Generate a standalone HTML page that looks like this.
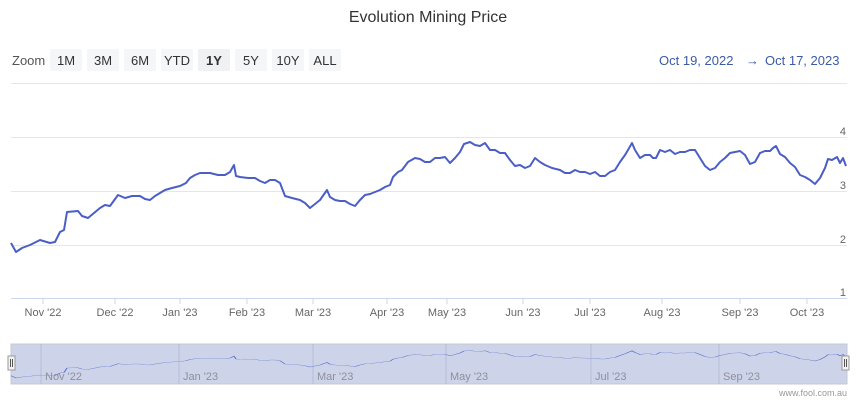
<!DOCTYPE html>
<html><head><meta charset="utf-8"><style>
body{margin:0;background:#fff;width:857px;height:400px;overflow:hidden;font-family:"Liberation Sans",sans-serif}
</style></head><body>
<svg width="857" height="400" xmlns="http://www.w3.org/2000/svg" font-family="Liberation Sans, sans-serif">
<text x="428" y="22" text-anchor="middle" font-size="16" fill="#333">Evolution Mining Price</text>
<text x="12" y="65" font-size="13" fill="#555">Zoom</text>
<g font-size="13" fill="#333" text-anchor="middle">
<rect x="50" y="49" width="32" height="22" rx="2" fill="#f5f6f7"/><text x="66" y="65">1M</text>
<rect x="87" y="49" width="32" height="22" rx="2" fill="#f5f6f7"/><text x="103" y="65">3M</text>
<rect x="124" y="49" width="32" height="22" rx="2" fill="#f5f6f7"/><text x="140" y="65">6M</text>
<rect x="161" y="49" width="32" height="22" rx="2" fill="#f5f6f7"/><text x="177" y="65">YTD</text>
<rect x="198" y="49" width="32" height="22" rx="2" fill="#f0f1f2"/><text x="214" y="65" font-weight="bold">1Y</text>
<rect x="235" y="49" width="32" height="22" rx="2" fill="#f5f6f7"/><text x="251" y="65">5Y</text>
<rect x="272" y="49" width="32" height="22" rx="2" fill="#f5f6f7"/><text x="288" y="65">10Y</text>
<rect x="309" y="49" width="32" height="22" rx="2" fill="#f5f6f7"/><text x="325" y="65">ALL</text>
</g>
<text x="659" y="65" font-size="13" fill="#3b5ba5">Oct 19, 2022</text>
<text x="746" y="65" font-size="13" fill="#3b5ba5">→</text>
<text x="765" y="65" font-size="13" fill="#3b5ba5">Oct 17, 2023</text>
<g stroke="#e6e6e6" stroke-width="1">
<line x1="11" y1="83.5" x2="847" y2="83.5"/>
<line x1="11" y1="137.5" x2="847" y2="137.5"/>
<line x1="11" y1="191.5" x2="847" y2="191.5"/>
<line x1="11" y1="245.5" x2="847" y2="245.5"/>
</g>
<line x1="11" y1="298.5" x2="847" y2="298.5" stroke="#ccd6eb"/>
<g font-size="11" fill="#666" text-anchor="end">
<text x="846" y="135">4</text><text x="846" y="189">3</text><text x="846" y="243">2</text><text x="846" y="296">1</text>
</g>
<g stroke="#ccd6eb"><line x1="43" y1="298" x2="43" y2="304"/><line x1="115" y1="298" x2="115" y2="304"/><line x1="180" y1="298" x2="180" y2="304"/><line x1="247" y1="298" x2="247" y2="304"/><line x1="313" y1="298" x2="313" y2="304"/><line x1="387" y1="298" x2="387" y2="304"/><line x1="447" y1="298" x2="447" y2="304"/><line x1="523" y1="298" x2="523" y2="304"/><line x1="590" y1="298" x2="590" y2="304"/><line x1="662" y1="298" x2="662" y2="304"/><line x1="740" y1="298" x2="740" y2="304"/><line x1="807" y1="298" x2="807" y2="304"/></g>
<g font-size="11" fill="#666" text-anchor="middle">
<text x="43" y="316">Nov '22</text><text x="115" y="316">Dec '22</text><text x="180" y="316">Jan '23</text><text x="247" y="316">Feb '23</text><text x="313" y="316">Mar '23</text><text x="387" y="316">Apr '23</text><text x="447" y="316">May '23</text><text x="523" y="316">Jun '23</text><text x="590" y="316">Jul '23</text><text x="662" y="316">Aug '23</text><text x="740" y="316">Sep '23</text><text x="807" y="316">Oct '23</text>
</g>
<defs>
<polyline id="ln" fill="none" points="11,243 16,252 22,248 30,245 40,240 50,243 55,242 60,232 64,230 67,212 78,211 82,216 88,218 100,208 105,205 110,206 118,195 125,198 132,196 140,196 145,199 150,200 155,196 165,190 172,188 180,186 186,183 190,178 195,175 200,173 210,173 218,175 225,175 230,172 234,165 236,176 240,177 248,178 255,178 260,181 265,183 270,180 275,180 280,183 285,196 292,198 300,200 305,203 310,208 315,204 320,200 327,190 330,197 335,200 340,201 345,201 350,204 355,206 360,200 365,195 370,194 375,192 380,190 385,187 390,185 393,177 398,172 402,170 408,162 415,158 420,159 425,162 430,162 435,158 440,158 445,157 450,163 455,158 460,152 464,144 470,142 475,145 480,146 485,143 490,150 495,150 500,153 505,153 510,160 515,166 520,165 525,168 530,166 535,158 540,162 545,165 552,168 560,170 565,173 570,173 575,170 580,172 585,172 590,174 595,172 600,176 605,176 610,172 615,170 620,162 625,155 628,150 632,143 635,150 640,158 645,155 650,155 653,158 656,158 660,150 665,152 670,150 675,154 680,152 685,152 690,150 695,150 700,158 705,166 710,170 715,168 720,162 725,158 730,153 735,152 740,151 745,155 750,164 755,162 760,153 765,151 770,151 773,148 776,146 780,154 785,157 790,163 795,167 800,175 805,177 810,180 815,184 820,178 825,168 828,159 832,160 837,157 840,163 843,158 846,166"/>
</defs>
<use href="#ln" stroke="#4a5ec6" stroke-width="2" stroke-linejoin="round"/>
<rect x="11" y="344" width="836" height="40" fill="#cdd4ea" stroke="#c4c8d2"/>
<g stroke="#b6bdd6"><line x1="41" y1="344" x2="41" y2="384"/><line x1="179" y1="344" x2="179" y2="384"/><line x1="313" y1="344" x2="313" y2="384"/><line x1="446" y1="344" x2="446" y2="384"/><line x1="591" y1="344" x2="591" y2="384"/><line x1="719" y1="344" x2="719" y2="384"/></g>
<use href="#ln" transform="matrix(1 0 0 0.25 0 315)" stroke="#5b6fcc" stroke-width="1.3" vector-effect="non-scaling-stroke"/>
<g font-size="11" fill="#8f8f9a">
<text x="45" y="380">Nov '22</text><text x="183" y="380">Jan '23</text><text x="317" y="380">Mar '23</text><text x="450" y="380">May '23</text><text x="595" y="380">Jul '23</text><text x="723" y="380">Sep '23</text>
</g>
<rect x="8" y="356" width="7" height="14" fill="#f2f2f2" stroke="#999"/>
<line x1="10.5" y1="359" x2="10.5" y2="367" stroke="#555"/><line x1="12.5" y1="359" x2="12.5" y2="367" stroke="#555"/>
<rect x="842" y="356" width="7" height="14" fill="#f2f2f2" stroke="#999"/>
<line x1="844.5" y1="359" x2="844.5" y2="367" stroke="#555"/><line x1="846.5" y1="359" x2="846.5" y2="367" stroke="#555"/>
<text x="847" y="396" text-anchor="end" font-size="9" fill="#999">www.fool.com.au</text>
</svg>
</body></html>
